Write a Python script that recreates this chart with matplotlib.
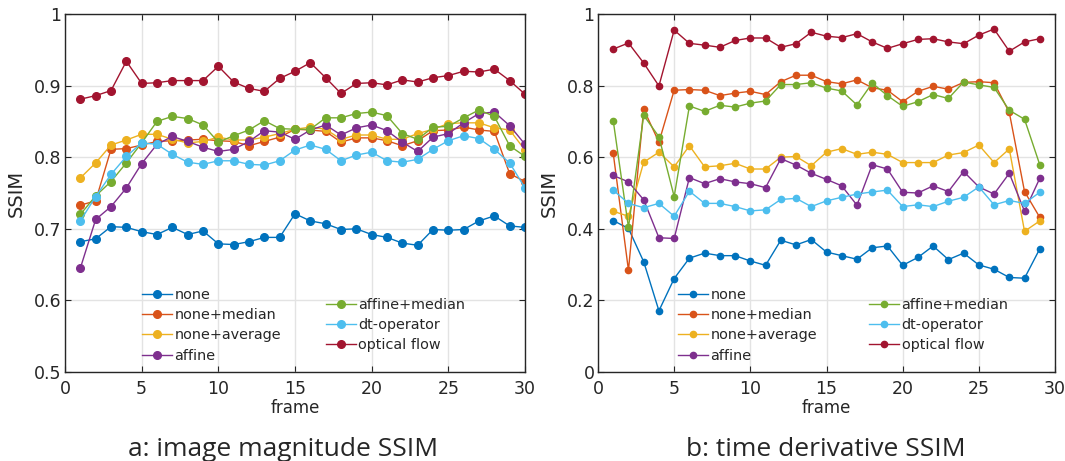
import numpy as np
import matplotlib
matplotlib.use('Agg')
import matplotlib.pyplot as plt

## 범례 이름과 색 (MATLAB 기본 색)
names = ['none', 'none+median', 'none+average', 'affine',
         'affine+median', 'dt-operator', 'optical flow']
colors = ['#0072BD', '#D95319', '#EDB120', '#7E2F8E',
          '#77AC30', '#4DBEEE', '#A2142F']

## a: image magnitude SSIM (frame 1~30)
frames_a = np.arange(1, 31)
a_none = [0.682, 0.686, 0.703, 0.702, 0.696, 0.692, 0.702, 0.692, 0.697, 0.679,
          0.678, 0.682, 0.688, 0.688, 0.721, 0.711, 0.707, 0.699, 0.700, 0.692,
          0.688, 0.680, 0.677, 0.699, 0.698, 0.699, 0.711, 0.718, 0.704, 0.702]
a_none_median = [0.733, 0.739, 0.811, 0.812, 0.817, 0.822, 0.823, 0.824, 0.825, 0.823,
                 0.822, 0.816, 0.822, 0.828, 0.839, 0.838, 0.836, 0.821, 0.827, 0.827,
                 0.823, 0.816, 0.823, 0.837, 0.838, 0.842, 0.838, 0.836, 0.777, 0.766]
a_none_average = [0.771, 0.792, 0.817, 0.824, 0.832, 0.832, 0.825, 0.820, 0.822, 0.828,
                  0.824, 0.824, 0.828, 0.833, 0.839, 0.842, 0.839, 0.825, 0.831, 0.831,
                  0.825, 0.825, 0.833, 0.839, 0.847, 0.848, 0.848, 0.841, 0.838, 0.810]
a_affine = [0.645, 0.713, 0.731, 0.757, 0.791, 0.818, 0.829, 0.822, 0.814, 0.808,
            0.811, 0.822, 0.837, 0.835, 0.825, 0.838, 0.845, 0.831, 0.841, 0.845,
            0.837, 0.821, 0.808, 0.828, 0.833, 0.848, 0.861, 0.863, 0.844, 0.818]
a_affine_median = [0.720, 0.746, 0.766, 0.792, 0.820, 0.850, 0.857, 0.854, 0.845, 0.821,
                   0.830, 0.838, 0.851, 0.840, 0.839, 0.839, 0.855, 0.855, 0.861, 0.863,
                   0.858, 0.833, 0.825, 0.842, 0.843, 0.855, 0.866, 0.857, 0.816, 0.801]
a_dt = [0.711, 0.745, 0.776, 0.801, 0.820, 0.818, 0.804, 0.793, 0.790, 0.795,
        0.795, 0.790, 0.789, 0.795, 0.810, 0.817, 0.811, 0.795, 0.803, 0.807,
        0.795, 0.793, 0.797, 0.811, 0.823, 0.830, 0.826, 0.811, 0.792, 0.757]
a_flow = [0.881, 0.886, 0.893, 0.934, 0.903, 0.904, 0.907, 0.907, 0.907, 0.927,
          0.905, 0.896, 0.892, 0.910, 0.920, 0.932, 0.911, 0.889, 0.903, 0.904,
          0.901, 0.908, 0.905, 0.911, 0.914, 0.920, 0.919, 0.923, 0.907, 0.888]

## b: time derivative SSIM (frame 1~29)
frames_b = np.arange(1, 30)
b_none = [0.423, 0.401, 0.308, 0.171, 0.261, 0.318, 0.332, 0.325, 0.325, 0.310,
          0.298, 0.368, 0.355, 0.370, 0.335, 0.325, 0.315, 0.347, 0.352, 0.298,
          0.320, 0.352, 0.314, 0.332, 0.299, 0.287, 0.264, 0.262, 0.344]
b_none_median = [0.611, 0.284, 0.734, 0.642, 0.787, 0.789, 0.787, 0.772, 0.779, 0.784,
                 0.775, 0.811, 0.829, 0.829, 0.811, 0.805, 0.816, 0.794, 0.787, 0.755,
                 0.784, 0.798, 0.790, 0.809, 0.811, 0.808, 0.725, 0.504, 0.432]
b_none_average = [0.449, 0.435, 0.586, 0.614, 0.573, 0.632, 0.573, 0.576, 0.583, 0.567,
                  0.567, 0.600, 0.602, 0.576, 0.614, 0.624, 0.608, 0.614, 0.608, 0.585,
                  0.585, 0.585, 0.606, 0.613, 0.634, 0.585, 0.623, 0.393, 0.422]
b_affine = [0.549, 0.531, 0.481, 0.375, 0.373, 0.543, 0.526, 0.540, 0.531, 0.526,
            0.515, 0.596, 0.578, 0.555, 0.538, 0.520, 0.466, 0.579, 0.567, 0.502,
            0.500, 0.520, 0.504, 0.560, 0.517, 0.497, 0.555, 0.449, 0.541]
b_affine_median = [0.702, 0.404, 0.717, 0.657, 0.490, 0.743, 0.728, 0.745, 0.740, 0.751,
                   0.757, 0.803, 0.803, 0.808, 0.793, 0.785, 0.746, 0.807, 0.772, 0.742,
                   0.755, 0.775, 0.764, 0.810, 0.802, 0.795, 0.731, 0.706, 0.579]
b_dt = [0.508, 0.471, 0.459, 0.471, 0.435, 0.505, 0.471, 0.471, 0.462, 0.450,
        0.453, 0.482, 0.485, 0.462, 0.478, 0.488, 0.497, 0.503, 0.508, 0.462,
        0.467, 0.462, 0.477, 0.488, 0.517, 0.467, 0.479, 0.471, 0.502]
b_flow = [0.902, 0.919, 0.863, 0.799, 0.955, 0.918, 0.913, 0.907, 0.926, 0.933,
          0.933, 0.907, 0.917, 0.949, 0.938, 0.934, 0.945, 0.922, 0.904, 0.917,
          0.929, 0.931, 0.922, 0.917, 0.941, 0.958, 0.896, 0.922, 0.931]

series_a = [a_none, a_none_median, a_none_average, a_affine, a_affine_median, a_dt, a_flow]
series_b = [b_none, b_none_median, b_none_average, b_affine, b_affine_median, b_dt, b_flow]

W, H = 1065, 461
plt.rcParams['font.family'] = ['DejaVu Sans']
fig = plt.figure(figsize=(W / 100, H / 100), dpi=100)
INK = '#262626'


def px_axes(left, top, right, bottom):
    return fig.add_axes([left / W, 1 - bottom / H, (right - left) / W, (bottom - top) / H])


def style_axes(ax, ylim, yticks, yticklabels):
    ax.set_xlim(0, 30)
    ax.set_ylim(*ylim)
    ax.set_xticks(range(0, 31, 5))
    ax.set_yticks(yticks)
    ax.set_yticklabels(yticklabels)
    ax.grid(True, color='#e3e3e3', linewidth=1.0)
    ax.set_axisbelow(True)
    for s in ax.spines.values():
        s.set_color(INK)
        s.set_linewidth(1.0)
    ax.tick_params(direction='in', length=4, width=0.8, color=INK,
                   labelsize=12.5, labelcolor=INK, top=True, right=True)
    ax.tick_params(axis='x', pad=5.5)
    ax.tick_params(axis='y', pad=2.5)
    ax.set_xlabel('frame', fontsize=12, color=INK, labelpad=1)
    ax.set_ylabel('SSIM', fontsize=14, color=INK, labelpad=6)


def add_legends(ax, lines, x1, x2, y1, y2):
    kw = dict(frameon=False, fontsize=10.4, handlelength=2.1, handletextpad=0.15,
              labelspacing=0.43, borderpad=0, borderaxespad=0, loc='upper left',
              bbox_transform=fig.transFigure)
    leg1 = ax.legend(lines[:4], names[:4], bbox_to_anchor=(x1 / W, 1 - y1 / H), **kw)
    for t in leg1.get_texts():
        t.set_color(INK)
    ax.add_artist(leg1)
    leg2 = ax.legend(lines[4:], names[4:], bbox_to_anchor=(x2 / W, 1 - y2 / H), **kw)
    for t in leg2.get_texts():
        t.set_color(INK)


## 왼쪽 그래프
ax1 = px_axes(65, 14, 525, 372)
lines1 = []
for ys, c in zip(series_a, colors):
    ln, = ax1.plot(frames_a, ys, '-o', color=c, linewidth=1.0, markersize=5.5)
    lines1.append(ln)
style_axes(ax1, (0.5, 1.0), [0.5, 0.6, 0.7, 0.8, 0.9, 1.0],
           ['0.5', '0.6', '0.7', '0.8', '0.9', '1'])
add_legends(ax1, lines1, 142, 326, 288, 298)

## 오른쪽 그래프
ax2 = px_axes(598, 14, 1055, 372)
lines2 = []
for ys, c in zip(series_b, colors):
    ln, = ax2.plot(frames_b, ys, '-o', color=c, linewidth=1.0, markersize=4.5)
    lines2.append(ln)
style_axes(ax2, (0.0, 1.0), [0, 0.2, 0.4, 0.6, 0.8, 1.0],
           ['0', '0.2', '0.4', '0.6', '0.8', '1'])
add_legends(ax2, lines2, 678, 869, 288, 298)

## 캡션
fig.text(283 / W, 1 - 456 / H, 'a: image magnitude SSIM', ha='center', va='baseline',
         fontsize=19, family='Open Sans', color=INK)
fig.text(826 / W, 1 - 456 / H, 'b: time derivative SSIM', ha='center', va='baseline',
         fontsize=19, family='Open Sans', color=INK)

fig.savefig('out.png', dpi=100)
